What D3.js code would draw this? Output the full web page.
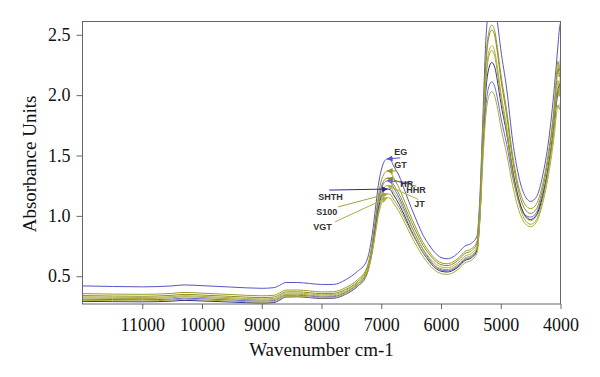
<!DOCTYPE html>
<html>
<head>
<meta charset="utf-8">
<script src="https://cdn.jsdelivr.net/npm/d3@7"></script>
<style>
  body { margin: 0; background: #fff; }
  svg { display: block; }
  .axis text { font-family: "Liberation Serif", "DejaVu Serif", serif; font-size: 18px; fill: #111; }
</style>
</head>
<body>
<div id="chart"></div>
<script>
const width = 600, height = 377;
const margin = { top: 21.5, right: 39.5, bottom: 73, left: 82.5 };
const innerWidth = width - margin.left - margin.right;
const innerHeight = height - margin.top - margin.bottom;

// Wavenumber grid (cm-1)
const wavenumbers = [12000, 11500, 11000, 10500, 10300, 10000, 9500, 9000, 8800, 8700, 8600, 8400, 8200, 8000, 7800, 7600, 7400, 7250, 7150, 7100, 7050, 7000, 6950, 6900, 6850, 6800, 6700, 6600, 6500, 6400, 6300, 6200, 6100, 6000, 5900, 5800, 5700, 5600, 5500, 5400, 5350, 5300, 5250, 5200, 5150, 5100, 5050, 5000, 4900, 4800, 4700, 4600, 4500, 4400, 4300, 4200, 4100, 4070, 4040, 4020, 4000];

// Spectra
const EG = [.420, .415, .412, .420, .428, .422, .410, .400, .405, .425, .448, .448, .440, .432, .432, .470, .540, .620, .850, 1.050, 1.250, 1.380, 1.450, 1.472, 1.470, 1.420, 1.330, 1.200, 1.070, .950, .840, .760, .695, .655, .645, .660, .700, .750, .770, .830, 1.150, 1.800, 2.450, 2.720, 2.800, 2.750, 2.580, 2.380, 2.050, 1.620, 1.330, 1.170, 1.120, 1.160, 1.330, 1.620, 2.080, 2.250, 2.430, 2.540, 2.600];
const GT = [.356, .352, .350, .358, .366, .360, .348, .338, .342, .362, .385, .386, .378, .370, .372, .405, .470, .560, .780, .970, 1.160, 1.290, 1.350, 1.372, 1.368, 1.320, 1.230, 1.110, .990, .880, .780, .705, .645, .612, .603, .618, .655, .705, .725, .785, 1.080, 1.700, 2.280, 2.520, 2.580, 2.530, 2.370, 2.180, 1.870, 1.500, 1.240, 1.100, 1.060, 1.100, 1.260, 1.530, 1.950, 2.150, 2.280, 2.200, 2.330];
const HHR = [.340, .336, .334, .342, .350, .344, .333, .323, .327, .347, .370, .371, .363, .356, .358, .390, .455, .545, .760, .940, 1.120, 1.240, 1.295, 1.312, 1.308, 1.265, 1.180, 1.070, .955, .850, .755, .685, .628, .596, .588, .602, .638, .688, .708, .768, 1.060, 1.680, 2.240, 2.480, 2.540, 2.490, 2.330, 2.140, 1.830, 1.460, 1.200, 1.060, 1.020, 1.060, 1.220, 1.490, 1.900, 2.080, 2.220, 2.150, 2.260];
const HR = [.310, .307, .305, .311, .318, .313, .303, .294, .298, .318, .342, .343, .336, .329, .331, .364, .430, .520, .740, .920, 1.100, 1.220, 1.275, 1.290, 1.285, 1.240, 1.150, 1.040, .920, .815, .720, .645, .585, .553, .545, .558, .592, .640, .660, .720, .990, 1.500, 1.900, 2.070, 2.110, 2.070, 1.960, 1.820, 1.590, 1.320, 1.120, 1.010, .990, 1.030, 1.180, 1.420, 1.780, 1.920, 2.010, 2.040, 2.050];
const JT = [.330, .326, .324, .331, .339, .333, .322, .312, .316, .336, .360, .361, .353, .346, .348, .380, .445, .535, .745, .910, 1.080, 1.190, 1.238, 1.252, 1.248, 1.205, 1.125, 1.020, .912, .815, .725, .658, .605, .578, .570, .584, .618, .666, .686, .745, 1.030, 1.620, 2.140, 2.360, 2.410, 2.360, 2.210, 2.030, 1.740, 1.390, 1.140, 1.000, .960, 1.000, 1.160, 1.420, 1.820, 2.000, 2.120, 2.050, 2.200];
const SHTH = [.292, .290, .288, .294, .300, .295, .286, .278, .282, .302, .328, .330, .323, .316, .318, .350, .415, .505, .715, .885, 1.050, 1.160, 1.208, 1.222, 1.218, 1.178, 1.095, .990, .880, .783, .695, .625, .570, .542, .535, .548, .582, .630, .650, .708, .980, 1.560, 2.030, 2.220, 2.270, 2.230, 2.100, 1.940, 1.680, 1.370, 1.140, 1.010, .970, 1.010, 1.160, 1.410, 1.790, 1.950, 2.050, 2.080, 2.100];
const S100 = [.320, .317, .315, .322, .330, .324, .313, .303, .307, .327, .350, .351, .343, .336, .338, .370, .435, .520, .715, .865, 1.025, 1.125, 1.168, 1.182, 1.178, 1.140, 1.065, .968, .868, .778, .695, .633, .585, .562, .555, .568, .602, .650, .670, .728, 1.010, 1.590, 2.100, 2.320, 2.370, 2.320, 2.170, 1.990, 1.700, 1.350, 1.110, .970, .930, .970, 1.130, 1.390, 1.780, 1.950, 2.060, 1.990, 2.150];
const VGT = [.300, .297, .296, .303, .310, .304, .294, .285, .289, .308, .333, .334, .327, .320, .322, .354, .418, .503, .695, .845, .998, 1.095, 1.138, 1.150, 1.146, 1.108, 1.033, .935, .835, .745, .662, .598, .548, .522, .515, .528, .562, .610, .630, .688, .950, 1.450, 1.830, 1.990, 2.030, 1.990, 1.880, 1.740, 1.510, 1.250, 1.050, .940, .910, .950, 1.100, 1.340, 1.690, 1.830, 1.920, 1.880, 1.950];

const sampleNames = ["EG", "GT", "HHR", "HR", "JT", "SHTH", "S100", "VGT"];
const sampleValues = [EG, GT, HHR, HR, JT, SHTH, S100, VGT];

const xTicks = [11000, 10000, 9000, 8000, 7000, 6000, 5000, 4000];
const yTicks = [0.5, 1.0, 1.5, 2.0, 2.5];

// peak used as the arrow target of each label
const labelPeak = 6900;

const colors = {
  EG: "#5656c4", GT: "#9a9a26", HHR: "#8c8c1c", HR: "#6a6ad0",
  JT: "#b2b246", SHTH: "#2c2c88", S100: "#a4a434", VGT: "#acac3c"
};

// label offsets relative to the arrow tip: text (tx, ty), line start (lx, ly)
const labelLayout = {
  EG:   { tx: 7,   ty: -4, lx: 13,  ly: -1 },
  GT:   { tx: 7,   ty: -3, lx: 9,   ly: 0 },
  HR:   { tx: 13,  ty: 6,  lx: 23,  ly: 2 },
  HHR:  { tx: 19,  ty: 15, lx: 29,  ly: 8 },
  JT:   { tx: 27,  ty: 22, lx: 31,  ly: 14 },
  SHTH: { tx: -69, ty: 11, lx: -58, ly: 1 },
  S100: { tx: -71, ty: 21, lx: -49, ly: 13 },
  VGT:  { tx: -74, ty: 32, lx: -52, ly: 24 }
};

const x = d3.scaleLinear().domain([12000, 4000]).range([0, innerWidth]);
const y = d3.scaleLinear().domain([0.27, 2.61]).range([innerHeight, 0]);

const svg = d3.select("#chart")
  .append("svg")
  .attr("width", width)
  .attr("height", height);

const defs = svg.append("defs");
defs.append("clipPath")
  .attr("id", "plot-clip")
  .append("rect")
  .attr("width", innerWidth)
  .attr("height", innerHeight);

sampleNames.forEach(name => {
  defs.append("marker")
    .attr("id", "arrow-" + name)
    .attr("viewBox", "0 0 10 10")
    .attr("refX", 9)
    .attr("refY", 5)
    .attr("markerWidth", 6)
    .attr("markerHeight", 6)
    .attr("markerUnits", "userSpaceOnUse")
    .attr("orient", "auto")
    .append("path")
    .attr("d", "M0,0 L10,5 L0,10 z")
    .attr("fill", colors[name]);
});

const innerChart = svg.append("g")
  .attr("transform", `translate(${margin.left}, ${margin.top})`);

const line = d3.line()
  .x((d, i) => x(wavenumbers[i]))
  .y(d => y(d))
  .curve(d3.curveMonotoneX);

// Spectra
innerChart.append("g")
  .attr("clip-path", "url(#plot-clip)")
  .selectAll("path")
  .data(sampleNames)
  .join("path")
  .attr("d", (name, i) => line(sampleValues[i]))
  .attr("fill", "none")
  .attr("stroke", name => colors[name])
  .attr("stroke-width", 1);

// Axes
const xAxis = d3.axisBottom(x)
  .tickValues(xTicks)
  .tickFormat(d3.format("d"))
  .tickSize(5)
  .tickSizeOuter(0);

const yAxis = d3.axisLeft(y)
  .tickValues(yTicks)
  .tickFormat(d3.format(".1f"))
  .tickSize(6)
  .tickSizeOuter(0);

const gx = innerChart.append("g")
  .attr("class", "axis")
  .attr("transform", `translate(0, ${innerHeight})`)
  .call(xAxis);

const gy = innerChart.append("g")
  .attr("class", "axis")
  .call(yAxis);

[gx, gy].forEach(g => {
  g.attr("font-family", "Liberation Serif").attr("font-size", 18);
  g.select(".domain").remove();
  g.selectAll(".tick line").attr("stroke", "#666");
});
gx.selectAll(".tick text").attr("dy", "1.05em").attr("y", 8);
gy.selectAll(".tick text").attr("x", -12);

// Frame
innerChart.append("rect")
  .attr("width", innerWidth)
  .attr("height", innerHeight)
  .attr("fill", "none")
  .attr("stroke", "#666")
  .attr("stroke-width", 1);

// Labels with arrows
const labels = innerChart.append("g");
sampleNames.forEach((name, i) => {
  const idx = wavenumbers.indexOf(labelPeak);
  const tipX = x(labelPeak);
  const tipY = y(sampleValues[i][idx]);
  const l = labelLayout[name];
  labels.append("line")
    .attr("x1", tipX + l.lx)
    .attr("y1", tipY + l.ly)
    .attr("x2", tipX)
    .attr("y2", tipY)
    .attr("stroke", colors[name])
    .attr("stroke-width", 1)
    .attr("marker-end", `url(#arrow-${name})`);
  labels.append("text")
    .attr("x", tipX + l.tx)
    .attr("y", tipY + l.ty)
    .attr("fill", "#333")
    .style("font-family", "'Liberation Sans', Arial, sans-serif")
    .style("font-size", "9px")
    .style("font-weight", "bold")
    .text(name);
});

// Axis titles
svg.append("text")
  .attr("x", margin.left + innerWidth / 2)
  .attr("y", 356)
  .attr("text-anchor", "middle")
  .attr("fill", "#111")
  .style("font-family", "'Liberation Serif', 'DejaVu Serif', serif")
  .style("font-size", "19px")
  .text("Wavenumber cm-1");

svg.append("text")
  .attr("transform", "translate(36, 164) rotate(-90)")
  .attr("text-anchor", "middle")
  .attr("fill", "#111")
  .style("font-family", "'Liberation Serif', 'DejaVu Serif', serif")
  .style("font-size", "19px")
  .text("Absorbance Units");
</script>
</body>
</html>
